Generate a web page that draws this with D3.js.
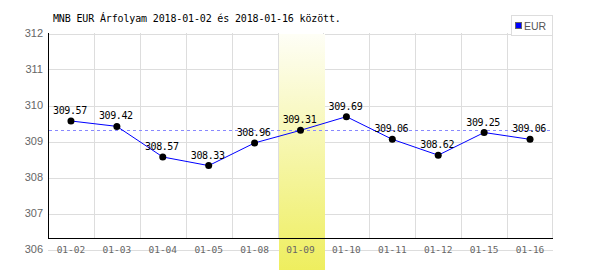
<!DOCTYPE html>
<html>
<head>
<meta charset="utf-8">
<script src="https://cdn.jsdelivr.net/npm/d3@7"></script>
<style>
  body { margin: 0; background: #fff; }
  svg { display: block; }
</style>
</head>
<body>
<div id="graf"></div>
<script>
// datos
const fechas = ['01-02', '01-03', '01-04', '01-05', '01-08', '01-09', '01-10', '01-11', '01-12', '01-15', '01-16']
const valores = [309.57, 309.42, 308.57, 308.33, 308.96, 309.31, 309.69, 309.06, 308.62, 309.25, 309.06]
const yTicks = [306, 307, 308, 309, 310, 311, 312]
const promedio = 309.32
const destacado = '01-09'
const titulo = 'MNB EUR Árfolyam 2018-01-02 és 2018-01-16 között.'
const serie = 'EUR'

const ancho_total = 600, alto_total = 270
const izq = 48, der = 553, arriba = 33, abajo = 238.5

svg = d3.select('#graf').append('svg')
  .attr('width', ancho_total)
  .attr('height', alto_total)

defs = svg.append('defs')
grad = defs.append('linearGradient')
  .attr('id', 'amarillo')
  .attr('x1', 0).attr('y1', 0).attr('x2', 0).attr('y2', 1)
grad.append('stop').attr('offset', '0%').attr('stop-color', '#fefef6')
grad.append('stop').attr('offset', '100%').attr('stop-color', '#eeee5e')

x = d3.scaleBand().domain(fechas).range([izq, der])
y = d3.scaleLinear().domain([306, 312]).range([249.5, arriba + 0.5])

g = svg.append('g')

// cuadrícula horizontal
g.selectAll('.hgrid').data(yTicks).enter().append('line')
  .attr('x1', izq).attr('x2', der)
  .attr('y1', d => Math.round(y(d)) + 0.5)
  .attr('y2', d => Math.round(y(d)) + 0.5)
  .attr('stroke', '#dddddd')

// cuadrícula vertical
g.selectAll('.vgrid').data(fechas.slice(1).concat(['fin'])).enter().append('line')
  .attr('x1', d => d == 'fin' ? der - 0.5 : Math.round(x(d)) + 0.5)
  .attr('x2', d => d == 'fin' ? der - 0.5 : Math.round(x(d)) + 0.5)
  .attr('y1', arriba).attr('y2', abajo)
  .attr('stroke', '#dddddd')

// franja destacada
g.append('rect')
  .attr('x', Math.round(x(destacado)) + 1)
  .attr('y', arriba + 1)
  .attr('width', Math.round(x.bandwidth()))
  .attr('height', alto_total - arriba)
  .attr('fill', 'url(#amarillo)')

// ejes
g.append('line')
  .attr('x1', izq + 0.5).attr('x2', izq + 0.5)
  .attr('y1', arriba).attr('y2', abajo + 0.5)
  .attr('stroke', '#000')
g.append('line')
  .attr('x1', izq).attr('x2', der)
  .attr('y1', abajo).attr('y2', abajo)
  .attr('stroke', '#000')

// etiquetas eje y
g.selectAll('.ylab').data(yTicks).enter().append('text')
  .attr('x', 43)
  .attr('y', d => y(d))
  .attr('dy', '0.36em')
  .attr('text-anchor', 'end')
  .attr('font-family', 'Liberation Sans, Arial, sans-serif')
  .attr('font-size', '11px')
  .attr('fill', '#666')
  .text(d => d)

// etiquetas eje x
g.selectAll('.xlab').data(fechas).enter().append('text')
  .attr('x', d => x(d) + x.bandwidth() / 2)
  .attr('y', 253)
  .attr('text-anchor', 'middle')
  .attr('font-family', 'DejaVu Sans Mono, monospace')
  .attr('font-size', '9.5px')
  .attr('fill', '#666')
  .text(d => d)

// línea promedio
g.append('line')
  .attr('x1', izq + 1).attr('x2', der)
  .attr('y1', Math.round(y(promedio)) + 0.5)
  .attr('y2', Math.round(y(promedio)) + 0.5)
  .attr('stroke', '#8888ff')
  .attr('stroke-dasharray', '3,3')

// serie
datos = fechas.map((f, i) => ({ fecha: f, valor: valores[i] }))
lineGen = d3.line()
  .x(d => x(d.fecha) + x.bandwidth() / 2)
  .y(d => y(d.valor))
g.append('path')
  .attr('d', lineGen(datos))
  .attr('fill', 'none')
  .attr('stroke', '#0000ff')
  .attr('stroke-width', 1)

g.selectAll('.punto').data(datos).enter().append('circle')
  .attr('cx', d => x(d.fecha) + x.bandwidth() / 2)
  .attr('cy', d => y(d.valor))
  .attr('r', 3.5)
  .attr('fill', '#000')

g.selectAll('.vlab').data(datos).enter().append('text')
  .attr('x', d => x(d.fecha) + x.bandwidth() / 2 - 1)
  .attr('y', d => y(d.valor) - 7)
  .attr('text-anchor', 'middle')
  .attr('font-family', 'DejaVu Sans Mono, monospace')
  .attr('font-size', '10px')
  .attr('letter-spacing', '-0.4px')
  .attr('fill', '#000')
  .text(d => d.valor.toFixed(2))

// título
svg.append('text')
  .attr('x', 53)
  .attr('y', 22)
  .attr('font-family', 'DejaVu Sans Mono, monospace')
  .attr('font-size', '10px')
  .attr('letter-spacing', '-0.15px')
  .attr('fill', '#000')
  .text(titulo)

// leyenda
leyenda = svg.append('g')
leyenda.append('rect')
  .attr('x', 511.5).attr('y', 15.5)
  .attr('width', 41).attr('height', 20)
  .attr('fill', '#fff')
  .attr('stroke', '#dddddd')
leyenda.append('rect')
  .attr('x', 515.5).attr('y', 22.5)
  .attr('width', 6).attr('height', 6)
  .attr('fill', '#0000ff')
  .attr('stroke', '#666')
leyenda.append('text')
  .attr('x', 524)
  .attr('y', 29.5)
  .attr('font-family', 'Liberation Sans, Arial, sans-serif')
  .attr('font-size', '10.5px')
  .attr('fill', '#555')
  .text(serie)
</script>
</body>
</html>
